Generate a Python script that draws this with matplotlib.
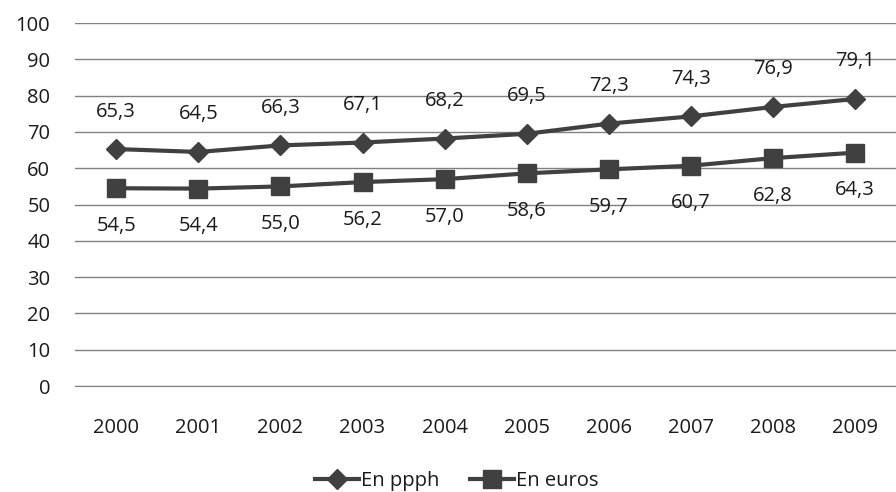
import numpy as np
import matplotlib.pyplot as plt

plt.rcParams['font.family'] = ['Open Sans', 'DejaVu Sans']

years = ['2000', '2001', '2002', '2003', '2004', '2005', '2006', '2007', '2008', '2009']
en_ppph = [65.3, 64.5, 66.3, 67.1, 68.2, 69.5, 72.3, 74.3, 76.9, 79.1]
en_euros = [54.5, 54.4, 55.0, 56.2, 57.0, 58.6, 59.7, 60.7, 62.8, 64.3]

dark = '#404040'
txt = '#1a1a1a'
fs = 14.5

fig = plt.figure(figsize=(8.96, 4.92), dpi=100)
ax = fig.add_axes([0.084, 0.2154, 0.916, 0.7376])

x = np.arange(len(years))
ax.plot(x, en_ppph, color=dark, lw=3, marker='D', ms=10, label='En ppph')
ax.plot(x, en_euros, color=dark, lw=3, marker='s', ms=13, label='En euros')

for xi, v in zip(x, en_ppph):
    ax.annotate(f'{v:.1f}'.replace('.', ','), (xi, v), xytext=(0, 27), textcoords='offset points',
                ha='center', va='center', fontsize=fs, color=txt)
for xi, v in zip(x, en_euros):
    ax.annotate(f'{v:.1f}'.replace('.', ','), (xi, v), xytext=(0, -27), textcoords='offset points',
                ha='center', va='center', fontsize=fs, color=txt)

ax.set_xlim(-0.5, len(years) - 0.5)
ax.set_ylim(0, 100)
ax.set_yticks(np.arange(0, 101, 10))
ax.set_xticks(x)
ax.set_xticklabels(years)
ax.yaxis.grid(True, color='#808080', lw=1)
ax.set_axisbelow(True)
for s in ax.spines.values():
    s.set_visible(False)
ax.spines['bottom'].set_visible(True)
ax.spines['bottom'].set_color('#808080')
ax.tick_params(length=0, labelsize=fs, colors=txt)
ax.tick_params(axis='x', pad=23)
ax.tick_params(axis='y', pad=18)

fig.legend(loc='lower center', bbox_to_anchor=(0.51, -0.035), ncol=2, frameon=False,
           fontsize=fs, handlelength=2.2, handletextpad=0.1, columnspacing=1.5,
           labelcolor=txt)

plt.savefig('out.png', dpi=100)
